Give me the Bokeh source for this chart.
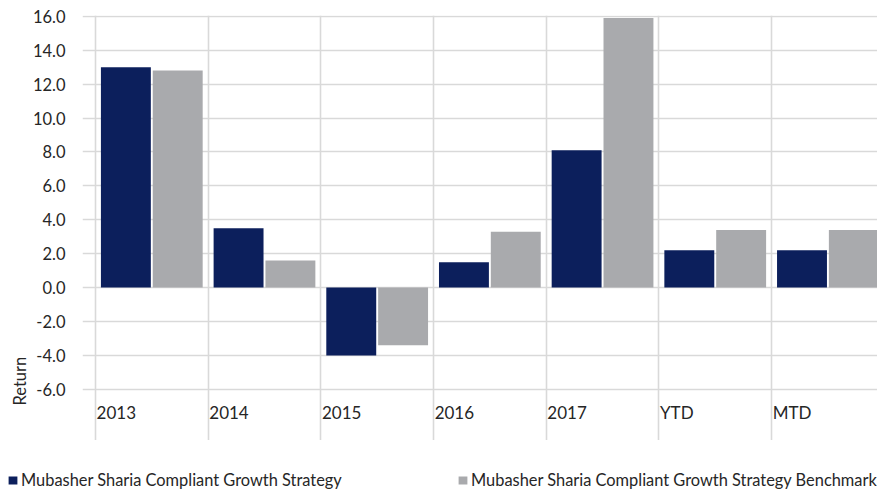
from bokeh.plotting import figure
from bokeh.models import (Range1d, FixedTicker, NumeralTickFormatter, Legend,
                          LegendItem, Title, ColumnDataSource)
from bokeh.core.properties import value
from bokeh.embed import file_html
from bokeh.resources import INLINE

categories = ["2013", "2014", "2015", "2016", "2017", "YTD", "MTD"]
strategy = [13.0, 3.5, -4.0, 1.5, 8.1, 2.2, 2.2]
benchmark = [12.8, 1.6, -3.4, 3.3, 15.9, 3.4, 3.4]
y_ticks = [-6, -4, -2, 0, 2, 4, 6, 8, 10, 12, 14, 16]

name_a = "Mubasher Sharia Compliant Growth Strategy"
name_b = "Mubasher Sharia Compliant Growth Strategy Benchmark"

NAVY = "#0C1F5C"
GRAY = "#A9AAAD"
TEXT = "#262626"
GRID = "#D9D9D9"
FONT = "Lato"

n = len(categories)
idx = list(range(n))
src = ColumnDataSource(dict(
    xa=[i + 0.27 for i in idx],
    xb=[i + 0.73 for i in idx],
    xl=[i + 0.01 for i in idx],
    yl=[-7.36] * n,
    strategy=strategy,
    benchmark=benchmark,
    cat=categories,
))

p = figure(width=877, height=440, output_backend="svg", toolbar_location=None,
           x_range=Range1d(-0.115, 6.94), y_range=Range1d(-9.02, 16.05),
           min_border_left=82, min_border_right=0, min_border_top=15,
           min_border_bottom=0)
p.outline_line_color = None

p.xaxis.visible = False
p.yaxis.ticker = FixedTicker(ticks=y_ticks)
p.yaxis.formatter = NumeralTickFormatter(format="0.0")
p.yaxis.axis_line_color = None
p.yaxis.major_tick_line_color = None
p.yaxis.minor_tick_line_color = None
p.yaxis.major_label_standoff = 11
p.yaxis.major_label_text_font = FONT
p.yaxis.major_label_text_font_size = "16.5px"
p.yaxis.major_label_text_color = TEXT

p.ygrid[0].ticker = FixedTicker(ticks=y_ticks)
p.ygrid[0].grid_line_color = GRID
p.ygrid[0].grid_line_width = 1.6
p.xgrid[0].ticker = FixedTicker(ticks=list(range(n + 1)))
p.xgrid[0].grid_line_color = GRID
p.xgrid[0].grid_line_width = 1.6

r1 = p.vbar(x="xa", top="strategy", bottom=0, width=0.443, source=src,
            fill_color=NAVY, line_color=None)
r2 = p.vbar(x="xb", top="benchmark", bottom=0, width=0.443, source=src,
            fill_color=GRAY, line_color=None)

p.text(x="xl", y="yl", text="cat", source=src, text_align="left",
       text_baseline="middle", text_font=value(FONT), text_font_size="17px",
       text_color=TEXT)

ttl = Title(text="Return", align="left", offset=35, text_font=FONT,
            text_font_size="16.5px", text_font_style="normal",
            text_color=TEXT, standoff=0)
p.add_layout(ttl, "left")

# legend strip below the chart (separate root, not frame-aligned)
q = figure(width=877, height=49, output_backend="svg", toolbar_location=None,
           x_range=Range1d(0, 1), y_range=Range1d(0, 1), min_border=0)
q.outline_line_color = None
q.axis.visible = False
q.grid.visible = False
la = q.vbar(x=[0.5], top=[0], bottom=[0], width=0, fill_color=NAVY,
            line_color=None)
lb = q.vbar(x=[0.5], top=[0], bottom=[0], width=0, fill_color=GRAY,
            line_color=None)


def make_legend(label, rend, loc):
    lg = Legend(items=[LegendItem(label=label, renderers=[rend])], location=loc)
    lg.border_line_color = None
    lg.background_fill_alpha = 0
    lg.padding = 0
    lg.margin = 0
    lg.glyph_width = 11
    lg.glyph_height = 10
    lg.label_standoff = 3
    lg.label_height = 15
    lg.label_text_font = FONT
    lg.label_text_font_size = "16.4px"
    lg.label_text_color = TEXT
    lg.label_text_baseline = "middle"
    return lg


q.add_layout(make_legend(name_a, la, (7, 0)))
q.add_layout(make_legend(name_b, lb, (457, 0)))

open("out.html", "w").write(file_html([p, q], INLINE))
